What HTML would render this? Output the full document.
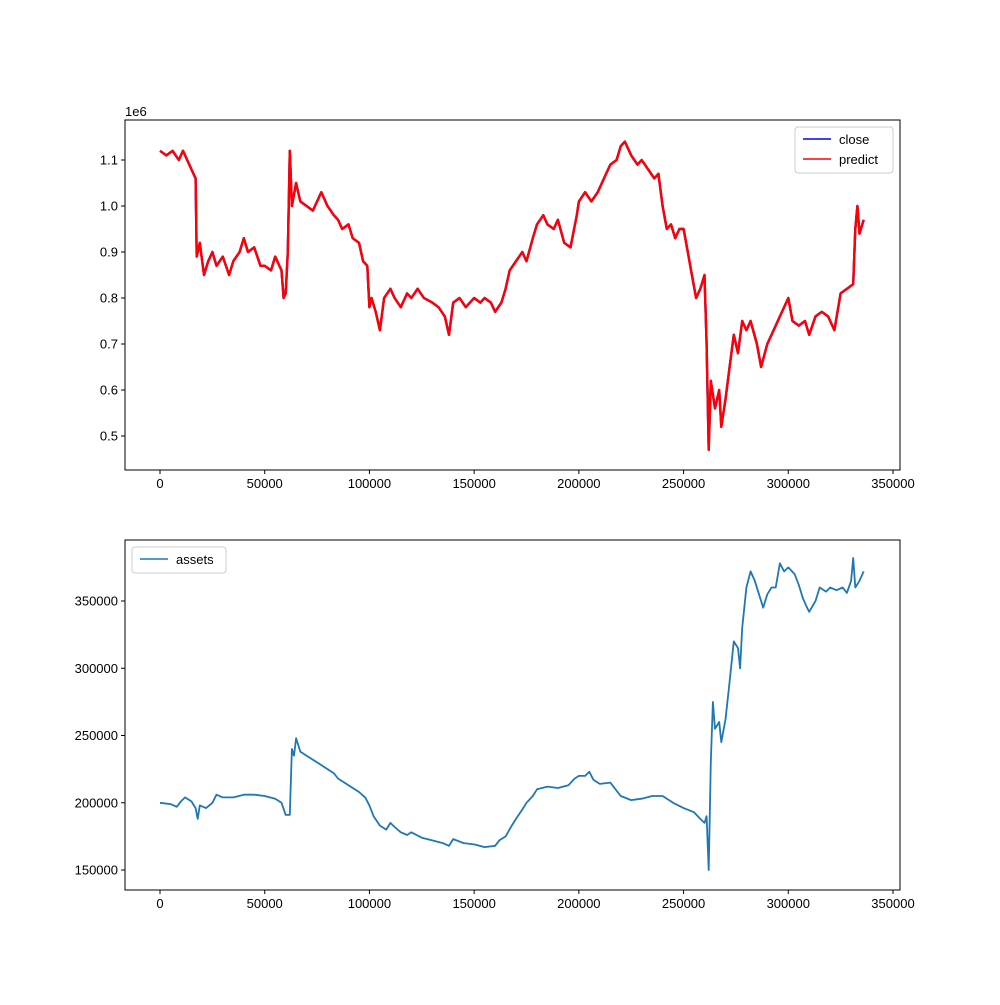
<!DOCTYPE html>
<html><head><meta charset="utf-8"><style>
body{margin:0;background:#fff}
svg text{font-family:"Liberation Sans","DejaVu Sans",sans-serif;font-size:13px;fill:#000}
</style></head><body>
<svg id="fig" width="1000" height="1000" xmlns="http://www.w3.org/2000/svg">
<rect width="1000" height="1000" fill="#fff"/>
<g id="top"></g>
<g id="bot"></g>
</svg>
<script>
const priceX=[0,3,6,9,11,13,15,17,17.5,19,21,23,25,27,30,33,35,38,40,42,45,48,50,53,55,58,59,60,61,62,63,65,67,70,73,75,77,80,83,85,87,90,92,95,97,99,100,101,103,105,107,110,112,115,118,120,123,126,130,133,136,138,140,143,146,150,153,155,158,160,163,165,167,170,173,175,178,180,183,185,188,190,193,196,199,200,203,206,209,212,215,218,220,222,225,228,230,233,236,238,240,242,244,246,248,250,252,254,256,258,260,261,262,263,265,267,268,270,272,274,276,278,280,282,285,287,290,293,296,298,300,302,305,308,310,313,316,319,322,325,328,331,332,333,334,336];
const priceY=[1.12,1.11,1.12,1.10,1.12,1.10,1.08,1.06,0.89,0.92,0.85,0.88,0.90,0.87,0.89,0.85,0.88,0.90,0.93,0.90,0.91,0.87,0.87,0.86,0.89,0.86,0.80,0.81,0.90,1.12,1.0,1.05,1.01,1.00,0.99,1.01,1.03,1.00,0.98,0.97,0.95,0.96,0.93,0.92,0.88,0.87,0.78,0.80,0.77,0.73,0.80,0.82,0.80,0.78,0.81,0.80,0.82,0.80,0.79,0.78,0.76,0.72,0.79,0.80,0.78,0.80,0.79,0.80,0.79,0.77,0.79,0.82,0.86,0.88,0.90,0.88,0.93,0.96,0.98,0.96,0.95,0.97,0.92,0.91,0.98,1.01,1.03,1.01,1.03,1.06,1.09,1.10,1.13,1.14,1.11,1.09,1.10,1.08,1.06,1.07,1.00,0.95,0.96,0.93,0.95,0.95,0.90,0.85,0.80,0.82,0.85,0.70,0.47,0.62,0.56,0.60,0.52,0.58,0.65,0.72,0.68,0.75,0.73,0.75,0.70,0.65,0.70,0.73,0.76,0.78,0.80,0.75,0.74,0.75,0.72,0.76,0.77,0.76,0.73,0.81,0.82,0.83,0.95,1.0,0.94,0.97];
const assetX=[0,5,8,10,12,15,17,18,19,22,25,27,30,35,40,45,50,55,58,60,62,63,64,65,67,70,75,80,83,85,90,95,98,100,102,105,108,110,112,115,118,120,125,130,135,138,140,145,150,155,160,162,165,168,170,173,175,178,180,185,190,195,198,200,203,205,207,210,215,220,225,230,235,240,245,250,255,258,260,261,262,263,264,265,267,268,270,272,274,276,277,278,280,282,284,286,288,290,292,294,296,298,300,303,305,307,309,310,313,315,318,320,323,326,328,330,331,332,334,336];
const assetY=[200,199,197,201,204,201,196,188,198,196,200,206,204,204,206,206,205,203,200,191,191,240,235,248,238,235,230,225,222,218,213,208,204,198,190,183,180,185,182,178,176,178,174,172,170,168,173,170,169,167,168,172,175,183,188,195,200,205,210,212,211,213,218,220,220,223,217,214,215,205,202,203,205,205,200,196,193,188,185,190,150,230,275,255,260,245,262,290,320,315,300,330,360,372,365,355,345,355,360,360,378,372,375,370,362,352,345,342,350,360,357,360,358,360,356,365,382,360,365,372];
const xTicks=[0,50000,100000,150000,200000,250000,300000,350000];
const pTicks=[0.5,0.6,0.7,0.8,0.9,1.0,1.1];
const aTicks=[150000,200000,250000,300000,350000];
const NS="http://www.w3.org/2000/svg";
function mk(p,t,a){const e=document.createElementNS(NS,t);for(const k in a)e.setAttribute(k,a[k]);p.appendChild(e);return e;}
const L=125,R=900;
const xs=v=>160+v*(733/350000);
function axes(g,top,bot,ys,yt,fmt){
  mk(g,'rect',{x:L,y:top,width:R-L,height:bot-top,fill:'none',stroke:'#000','stroke-width':1});
  xTicks.forEach(t=>{const x=xs(t);mk(g,'line',{x1:x,x2:x,y1:bot,y2:bot+4,stroke:'#000'});
    const tx=mk(g,'text',{x:x,y:bot+18,'text-anchor':'middle'});tx.textContent=t;
    
    });
  yt.forEach(t=>{const y=ys(t);mk(g,'line',{x1:L-4,x2:L,y1:y,y2:y,stroke:'#000'});
    const tx=mk(g,'text',{x:L-7,y:y+4.5,'text-anchor':'end'});tx.textContent=fmt(t);
    
    });
}
function line(g,X,Y,xf,yf,col,name,w){
  const d=X.map((x,i)=>(i?'L':'M')+xf(x*1000).toFixed(1)+','+yf(Y[i]).toFixed(1)).join('');
  const p=mk(g,'path',{d:d,fill:'none',stroke:col,'stroke-width':w,'stroke-linejoin':'round'});
  
  
}
const gt=document.getElementById('top');
const ysT=v=>206-(v-1.0)*460;
axes(gt,120,470,ysT,pTicks,t=>t.toFixed(1));
const ex=mk(gt,'text',{x:125,y:116});ex.textContent='1e6';


line(gt,priceX,priceY,xs,ysT,'blue','close-line',2.4);
line(gt,priceX,priceY,xs,ysT,'red','predict-line',2.4);
const lg=mk(gt,'g',{});


mk(lg,'rect',{x:795,y:127,width:98,height:46,rx:3,fill:'#fff',stroke:'#ccc'});
mk(lg,'line',{x1:803,x2:831,y1:139,y2:139,stroke:'blue','stroke-width':1.6});
mk(lg,'line',{x1:803,x2:831,y1:159,y2:159,stroke:'red','stroke-width':1.6});
let t1=mk(lg,'text',{x:839,y:144});t1.textContent='close';
let t2=mk(lg,'text',{x:839,y:164});t2.textContent='predict';
const gb=document.getElementById('bot');
const ysB=v=>870-(v-150000)*(67.25/50000);
axes(gb,540,890,ysB,aTicks,t=>t);
line(gb,assetX,assetY.map(v=>v*1000),xs,ysB,'#1f77b4','assets-line',1.8);
const lb=mk(gb,'g',{});


mk(lb,'rect',{x:132,y:547,width:94,height:26,rx:3,fill:'#fff',stroke:'#ccc'});
mk(lb,'line',{x1:140,x2:168,y1:559,y2:559,stroke:'#1f77b4','stroke-width':1.6});
let t3=mk(lb,'text',{x:176,y:564});t3.textContent='assets';
</script>
</body></html>
